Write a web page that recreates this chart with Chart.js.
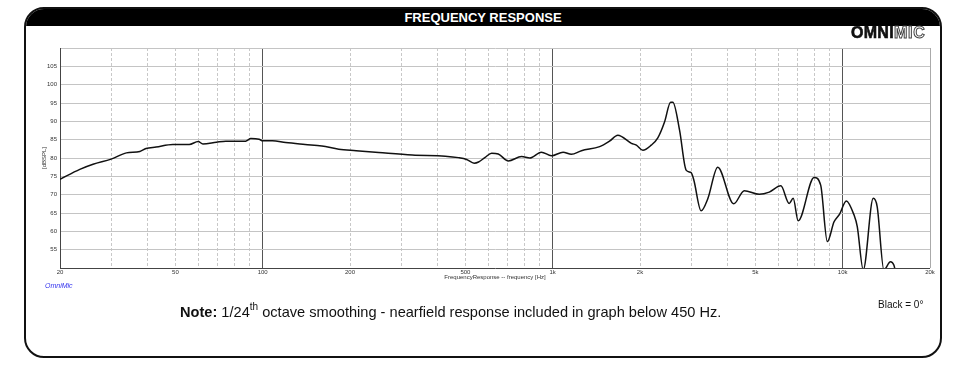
<!DOCTYPE html>
<html>
<head>
<meta charset="utf-8">
<script src="https://cdn.jsdelivr.net/npm/chart.js@4/dist/chart.umd.min.js"></script>
<style>
  html, body { margin: 0; padding: 0; background: #fff; }
  body { width: 967px; height: 371px; position: relative; overflow: hidden; font-family: "Liberation Sans", Arial, sans-serif; }
  #c { position: absolute; left: 0; top: 0; }
  #frame { position: absolute; left: 24px; top: 7px; width: 914px; height: 347px; border: 2px solid #111; border-radius: 20px; overflow: hidden; box-sizing: content-box; }
  #header { position: absolute; left: 0; top: 0; right: 0; height: 17px; background: #000; color: #fff; font-weight: bold; font-size: 13px; text-align: center; line-height: 17px; }
  #logo { position: absolute; left: 851px; top: 24px; font-size: 16px; font-weight: bold; letter-spacing: 0.3px; line-height: 17px; }
  #logo .o { color: #111; -webkit-text-stroke: 0.6px #111; }
  #logo .m { color: #fff; -webkit-text-stroke: 1px #444; letter-spacing: 0.8px; }
  #note { position: absolute; left: 180px; top: 304px; font-size: 14.6px; color: #111; white-space: nowrap; }
  #note sup { font-size: 10px; vertical-align: 7px; line-height: 0; }
  #black { position: absolute; left: 878px; top: 299px; font-size: 10px; color: #111; }
  #omni { position: absolute; left: 45px; top: 282px; font-size: 7px; font-style: italic; color: #3333ee; }
</style>
</head>
<body>
<canvas id="c" width="967" height="371"></canvas>
<div id="frame"><div id="header">FREQUENCY RESPONSE</div></div>
<div id="logo"><span class="o">OMNI</span><span class="m">MIC</span></div>
<div id="note"><b>Note:</b> 1/24<sup>th</sup> octave smoothing - nearfield response included in graph below 450 Hz.</div>
<div id="black">Black = 0°</div>
<div id="omni">OmniMic</div>
<script>
// ---- data ----
const freqHz = [20, 23.4, 26, 30, 33.9, 37.7, 39.6, 42.9, 49, 55.8, 59.9, 62.2, 69.2, 74.6, 87.3, 91, 97.2, 100, 108, 120, 140, 160, 183, 210, 251, 328, 426, 473, 505, 536, 555, 585, 616, 649, 703, 781, 834, 914, 990, 1086, 1160, 1256, 1452, 1570, 1677, 1868, 1943, 2046, 2186, 2304, 2432, 2550, 2596, 2738, 2884, 3002, 3066, 3249, 3426, 3707, 4208, 4578, 5156, 5582, 6118, 6540, 6750, 7022, 7968, 8396, 8852, 9336, 9758, 10288, 10936, 11226, 11772, 12742, 13152, 13866, 14610, 15010, 15300];
const splDb = [74.2, 76.9, 78.3, 79.7, 81.4, 81.8, 82.6, 83.0, 83.7, 83.7, 84.5, 83.8, 84.3, 84.6, 84.6, 85.3, 85.1, 84.7, 84.7, 84.2, 83.7, 83.3, 82.4, 82.0, 81.5, 80.8, 80.5, 80.1, 79.6, 78.6, 78.9, 80.2, 81.3, 81.1, 79.2, 80.4, 80.0, 81.6, 80.6, 81.6, 81.0, 82.0, 83.1, 84.6, 86.2, 84.0, 83.5, 82.1, 83.5, 85.5, 89.9, 95.2, 95.2, 87.6, 76.7, 76.0, 74.0, 65.6, 68.9, 77.5, 67.5, 71.1, 70.1, 70.7, 72.4, 67.6, 69.0, 62.9, 74.7, 72.6, 57.2, 62.6, 64.7, 68.3, 64.5, 61.3, 49.5, 69.0, 66.7, 49.5, 51.7, 50.8, 48.0];

const xGridFreqs = [20, 30, 40, 50, 60, 70, 80, 90, 100, 200, 300, 400, 500, 600, 700, 800, 900, 1000, 2000, 3000, 4000, 5000, 6000, 7000, 8000, 9000, 10000, 20000];
const xLabelFreqs = [20, 50, 100, 200, 500, 1000, 2000, 5000, 10000, 20000];
const xLabelTexts = ['20', '50', '100', '200', '500', '1k', '2k', '5k', '10k', '20k'];
const majorFreqs = [100, 1000, 10000, 20000];
const yTickValues = [50, 55, 60, 65, 70, 75, 80, 85, 90, 95, 100, 105, 110];
const yLabelValues = [55, 60, 65, 70, 75, 80, 85, 90, 95, 100, 105];

const tickFont = { family: '"Liberation Sans", Arial, sans-serif', size: 6 };

new Chart(document.getElementById('c'), {
  type: 'line',
  data: {
    datasets: [{
      data: freqHz.map((f, i) => ({ x: f, y: splDb[i] })),
      borderColor: '#111',
      borderWidth: 1.5,
      pointRadius: 0,
      cubicInterpolationMode: 'monotone',
      fill: false
    }]
  },
  options: {
    responsive: false,
    animation: false,
    devicePixelRatio: 1,
    layout: { padding: { left: 40, right: 37, top: 48, bottom: 90 } },
    plugins: { legend: { display: false }, tooltip: { enabled: false } },
    scales: {
      x: {
        type: 'logarithmic',
        position: 'bottom',
        min: 20, max: 20000,
        afterBuildTicks: s => { s.ticks = xGridFreqs.map(v => ({ value: v })); },
        afterFit: s => { s.height = 13; },
        ticks: {
          autoSkip: false, maxRotation: 0, padding: 1, color: '#333', font: tickFont,
          callback: v => { const i = xLabelFreqs.indexOf(v); return i >= 0 ? xLabelTexts[i] : ''; }
        },
        grid: { color: '#c8c8c8', lineWidth: 1, drawTicks: false },
        border: { display: false, dash: [3, 2] },
        title: { display: true, text: 'FrequencyResponse -- frequency [Hz]', color: '#333', font: tickFont, padding: 0 }
      },
      x2: {
        type: 'logarithmic',
        position: 'top',
        min: 20, max: 20000,
        afterBuildTicks: s => { s.ticks = majorFreqs.map(v => ({ value: v })); },
        afterFit: s => { s.height = 0; },
        ticks: { display: false },
        grid: { color: c => (c.tick && c.tick.value === 20000 ? '#aaaaaa' : '#555555'), lineWidth: 1, drawTicks: false },
        border: { display: false }
      },
      y: {
        min: 50, max: 110,
        afterBuildTicks: s => { s.ticks = yTickValues.map(v => ({ value: v })); },
        afterFit: s => { s.width = 20; },
        ticks: {
          padding: 3, color: '#333', font: tickFont,
          callback: v => (yLabelValues.includes(v) ? String(v) : '')
        },
        grid: { color: c => (c.tick && c.tick.value === 50 ? '#444' : '#c4c4c4'), lineWidth: 1, drawTicks: false },
        border: { display: true, color: '#444', width: 1 },
        title: { display: true, text: '[dBSPL]', color: '#333', font: tickFont, padding: { top: 1, bottom: 0 } }
      }
    }
  }
});
</script>
</body>
</html>
